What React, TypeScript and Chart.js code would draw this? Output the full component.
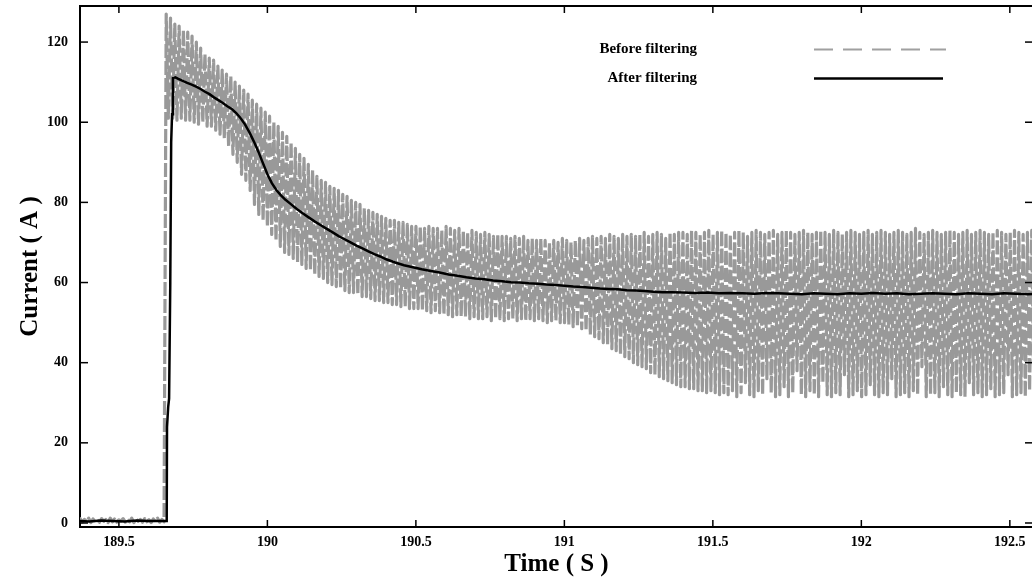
import { useEffect, useRef } from "react";
import { Chart, registerables } from "chart.js";

Chart.register(...registerables);

const FONT = "'Liberation Serif', 'Times New Roman', Times, serif";

const xTickValues = [189.5, 190, 190.5, 191, 191.5, 192, 192.5];
const yTickValues = [0, 20, 40, 60, 80, 100, 120];
const seriesNames = ["Before filtering", "After filtering"];

// "Before filtering" raw samples (uniform sampling)
const beforeStart = 189.362;
const beforeStep = 0.00725;
const beforeIdle = [
  0.3, 1.1, 0.2, 0.9, 0.4, 1.2, 0.1, 1.0, 0.3, 0.8,
  0.2, 1.1, 0.4, 0.9, 0.1, 1.2, 0.3, 1.0, 0.2, 0.8,
  0.5, 1.1, 0.2, 0.9, 0.3, 1.2, 0.1, 1.0, 0.4, 0.9,
  0.2, 1.1, 0.3, 0.8, 0.1, 1.0, 0.4, 1.2, 0.2, 0.9,
  0.3,
];
const beforePeaks = [
  127, 126, 124.5, 124, 123, 122.5, 121.5, 120, 118.5, 117,
  116, 115.5, 114, 113, 112, 111.5, 110, 109, 108, 107,
  105.5, 104.5, 103.5, 102.5, 101.5, 100, 99, 97.5, 96.5, 95,
  93.5, 92, 91, 89.5, 88, 86.5, 85.5, 85, 84, 83.5,
  83, 82, 81.5, 80.5, 80, 79.5, 78.5, 78, 77.5, 77,
  76.5, 76, 75.5, 75.5, 75, 75, 74.5, 74, 74, 74,
  73.5, 74, 73.5, 73.5, 73, 74, 73.5, 73, 73.5, 73,
  72.5, 73, 72.5, 72, 72.5, 72, 71.5, 72, 71.5, 71.5,
  71, 71.5, 71, 71.5, 70.5, 71, 70.5, 71, 70.5, 70,
  70.5, 70, 71, 70.5, 70, 70.5, 71, 70.5, 71, 71.5,
  71, 71.5, 71, 72, 71.5, 71, 72, 71.5, 72, 71.5,
  72, 72.5, 71.5, 72, 72.5, 72, 71, 72.5, 72, 72.5,
  72.5, 72, 73, 72.5, 72, 72.5, 73, 72, 72.5, 73,
  72.5, 72, 72.5, 73, 72.5, 71.5, 72.5, 73, 72.5, 72,
  72.5, 73, 72, 72.5, 73, 72.5, 72, 72.5, 73, 72.5,
  72, 72.5, 73, 72.5, 72, 73, 72.5, 72, 72.5, 73,
  72.5, 72, 72.5, 73, 72, 72.5, 73, 72.5, 72, 72.5,
  73, 72.5, 72, 72.5, 73.5, 72.5, 72, 72.5, 73, 72.5,
  72, 72.5, 73, 72.5, 72, 72.5, 73, 72, 72.5, 73,
  72.5, 72, 72.5, 73, 72.5, 72, 72.5, 73, 72.5, 72,
  72.5, 73,
];
const beforeTroughs = [
  101, 101, 100.5, 101, 100.5, 100.5, 100, 99.5, 100, 99,
  99, 98, 97, 96, 94, 92, 90, 87, 85.5, 83,
  79.5, 77, 75.5, 74, 72, 70.5, 69, 67.5, 67, 66,
  65, 64.5, 63.5, 63, 62, 61.5, 61, 60, 59.5, 59,
  58.5, 58, 57.5, 57.5, 57, 56.5, 56.5, 56, 55.5, 55.5,
  55, 55, 54.5, 54.5, 54, 54, 53.5, 53.5, 53.5, 53,
  53, 52.5, 53, 52.5, 52, 52, 51.5, 52, 51.5, 51.5,
  51, 51.5, 51, 51, 51.5, 50.5, 51, 51, 50.5, 51,
  51, 50.5, 51, 50.5, 51, 50.5, 51, 50.5, 50, 50.5,
  50.5, 50, 50, 49.5, 49, 49, 48.5, 48, 47, 46.5,
  46, 45, 44.5, 43.5, 43, 42, 41.5, 41, 40, 39.5,
  39, 38.5, 37.5, 37, 36.5, 36, 35.5, 35, 34.5, 34,
  34, 33.5, 33.5, 33, 33, 32.5, 33, 32.5, 32, 32.5,
  32, 33, 31.5, 32.5, 35, 32, 31.5, 33, 32, 36,
  32.5, 31.5, 32, 34, 31.5, 32.5, 38, 32, 31.5, 33,
  32, 31.5, 35, 32, 31.5, 32.5, 32, 37, 31.5, 32,
  33, 31.5, 32, 34.5, 32, 31.5, 32.5, 32, 36, 31.5,
  32, 32.5, 31.5, 33, 32, 39, 31.5, 32, 32.5, 31.5,
  34, 32, 31.5, 32.5, 32, 31.5, 35, 32, 32.5, 31.5,
  32, 33.5, 31.5, 32, 32.5, 37, 31.5, 32, 32.5, 31.5,
  33, 32,
];

// "After filtering" curve
const afterTime = [
  189.362, 189.4, 189.44, 189.48, 189.52, 189.56, 189.6, 189.64, 189.661,
  189.662, 189.666, 189.669, 189.673, 189.676, 189.679, 189.682, 189.69,
  189.7, 189.715, 189.73, 189.745, 189.76, 189.775, 189.79, 189.805, 189.82,
  189.835, 189.85, 189.865, 189.88, 189.895, 189.91, 189.925, 189.94, 189.955,
  189.97, 189.985, 190.0, 190.015, 190.03, 190.045, 190.06, 190.08, 190.1,
  190.12, 190.14, 190.16, 190.18, 190.2, 190.22, 190.24, 190.26, 190.28,
  190.3, 190.32, 190.34, 190.36, 190.38, 190.4, 190.43, 190.46, 190.49,
  190.52, 190.55, 190.58, 190.61, 190.64, 190.67, 190.7, 190.73, 190.76,
  190.79, 190.82, 190.85, 190.88, 190.91, 190.94, 190.97, 191.0, 191.03,
  191.06, 191.09, 191.12, 191.15, 191.18, 191.21, 191.24, 191.27, 191.3,
  191.33, 191.36, 191.4, 191.44, 191.48, 191.52, 191.56, 191.6, 191.64,
  191.68, 191.72, 191.76, 191.8, 191.84, 191.88, 191.92, 191.96, 192.0,
  192.04, 192.08, 192.12, 192.16, 192.2, 192.24, 192.28, 192.32, 192.36,
  192.4, 192.44, 192.48, 192.52, 192.56, 192.6,
];
const afterValues = [
  0.5, 0.4, 0.6, 0.5, 0.4, 0.6, 0.5, 0.5, 0.5,
  24, 29, 31, 60, 95, 102, 111, 111.2,
  110.8, 110.3, 109.8, 109.4, 108.9, 108.3, 107.6, 107.0, 106.2,
  105.5, 104.8, 104.0, 103.3, 102.3, 101.0, 99.4, 97.4, 95.1,
  92.6, 89.8, 87.0, 84.8, 83.1, 81.8, 80.7, 79.5, 78.3,
  77.2, 76.2, 75.2, 74.3, 73.4, 72.5, 71.6, 70.8, 70.0,
  69.2, 68.5, 67.8, 67.1, 66.5, 65.8, 65.0, 64.3, 63.8,
  63.3, 62.9, 62.5, 62.0, 61.7, 61.3, 61.0, 60.8, 60.5,
  60.3, 60.1, 60.0, 59.8, 59.7, 59.5, 59.4, 59.2, 59.0,
  58.9, 58.7, 58.5, 58.4, 58.3, 58.1, 58.0, 57.9, 57.7,
  57.6, 57.6, 57.5, 57.4, 57.5, 57.3, 57.4, 57.3, 57.2,
  57.4, 57.3, 57.2, 57.1, 57.3, 57.2, 57.1, 57.3, 57.2,
  57.4, 57.2, 57.3, 57.1, 57.2, 57.3, 57.2, 57.1, 57.3,
  57.2, 57.1, 57.3, 57.2, 57.1, 57.2,
];

const beforeValues: number[] = [...beforeIdle];
beforePeaks.forEach((p, k) => {
  beforeValues.push(p, beforeTroughs[k]);
});
const beforeData = beforeValues.map((v, i) => ({ x: beforeStart + i * beforeStep, y: v }));
const afterData = afterTime.map((t, i) => ({ x: t, y: afterValues[i] }));

const framePlugin = {
  id: "gnuplotFrame",
  afterDatasetsDraw(chart: any) {
    const { ctx, chartArea: a, scales } = chart;
    const seg = (x1: number, y1: number, x2: number, y2: number) => {
      ctx.beginPath();
      ctx.moveTo(x1, y1);
      ctx.lineTo(x2, y2);
      ctx.stroke();
    };
    ctx.save();
    ctx.strokeStyle = "#000";
    ctx.lineWidth = 2;
    ctx.beginPath();
    ctx.moveTo(a.left, a.top);
    ctx.lineTo(a.right, a.top);
    ctx.lineTo(a.right, a.bottom);
    ctx.stroke();
    ctx.lineWidth = 1.5;
    xTickValues.forEach((v) => {
      const px = scales.x.getPixelForValue(v);
      seg(px, a.bottom, px, a.bottom - 7);
      seg(px, a.top, px, a.top + 7);
    });
    yTickValues.forEach((v) => {
      const py = scales.y.getPixelForValue(v);
      seg(a.left, py, a.left + 8, py);
      seg(a.right, py, a.right - 8, py);
    });

    // key
    ctx.font = `bold 15px ${FONT}`;
    ctx.fillStyle = "#000";
    ctx.textAlign = "right";
    ctx.textBaseline = "middle";
    ctx.fillText(seriesNames[0], 697, 49);
    ctx.fillText(seriesNames[1], 697, 78);
    ctx.strokeStyle = "#a0a0a0";
    ctx.lineWidth = 2;
    ctx.setLineDash([19, 10]);
    seg(814, 49.5, 946, 49.5);
    ctx.setLineDash([]);
    ctx.strokeStyle = "#000";
    ctx.lineWidth = 2.5;
    seg(814, 78.5, 943, 78.5);
    ctx.restore();
  },
};

export default function App() {
  const ref = useRef<HTMLCanvasElement>(null);

  useEffect(() => {
    if (!ref.current) return;
    const tickFont = { family: FONT, size: 14, weight: "bold" as const };
    const titleFont = { family: FONT, size: 25, weight: "bold" as const };
    const chart = new Chart(ref.current, {
      type: "line",
      data: {
        datasets: [
          {
            label: seriesNames[0],
            data: beforeData,
            borderColor: "#999999",
            borderWidth: 3.2,
            borderDash: [14, 3],
            borderJoinStyle: "round",
            pointRadius: 0,
            tension: 0,
            fill: false,
            order: 2,
          },
          {
            label: seriesNames[1],
            data: afterData,
            borderColor: "#000000",
            borderWidth: 2.5,
            pointRadius: 0,
            tension: 0,
            fill: false,
            order: 1,
          },
        ],
      },
      options: {
        responsive: false,
        maintainAspectRatio: false,
        animation: false,
        parsing: false,
        layout: { padding: { top: 6, right: 27, left: 0, bottom: 0 } },
        plugins: {
          legend: { display: false },
          tooltip: { enabled: false },
        },
        scales: {
          x: {
            type: "linear",
            position: "bottom",
            min: 189.369,
            max: 192.578,
            afterBuildTicks: (s: any) => {
              s.ticks = xTickValues.map((v) => ({ value: v }));
            },
            afterFit: (s: any) => {
              s.height = 57;
              s.paddingLeft = 0;
              s.paddingRight = 0;
            },
            grid: { display: true, drawOnChartArea: false, drawTicks: false },
            border: { display: true, color: "#000", width: 2 },
            ticks: {
              font: tickFont,
              color: "#000",
              padding: 7,
              maxRotation: 0,
              autoSkip: false,
              callback: (v: any) => String(v),
            },
            title: {
              display: true,
              text: "Time ( S )",
              font: titleFont,
              color: "#000",
              padding: { top: 0, bottom: 4 },
            },
          },
          y: {
            type: "linear",
            position: "left",
            min: -1,
            max: 129,
            afterBuildTicks: (s: any) => {
              s.ticks = yTickValues.map((v) => ({ value: v }));
            },
            afterFit: (s: any) => {
              s.width = 80;
              s.paddingTop = 0;
              s.paddingBottom = 0;
            },
            grid: { display: true, drawOnChartArea: false, drawTicks: false },
            border: { display: true, color: "#000", width: 2 },
            ticks: {
              font: tickFont,
              color: "#000",
              padding: 12,
              autoSkip: false,
              callback: (v: any) => String(v),
            },
            title: {
              display: true,
              text: "Current ( A )",
              font: titleFont,
              color: "#000",
              padding: { top: 16, bottom: 0 },
            },
          },
        },
      },
      plugins: [framePlugin],
    });
    return () => chart.destroy();
  }, []);

  return (
    <div
      style={{
        position: "fixed",
        left: 0,
        top: 0,
        width: 1032,
        height: 584,
        overflow: "hidden",
        background: "#fff",
      }}
    >
      <canvas ref={ref} width={1060} height={584} style={{ display: "block" }} />
    </div>
  );
}
